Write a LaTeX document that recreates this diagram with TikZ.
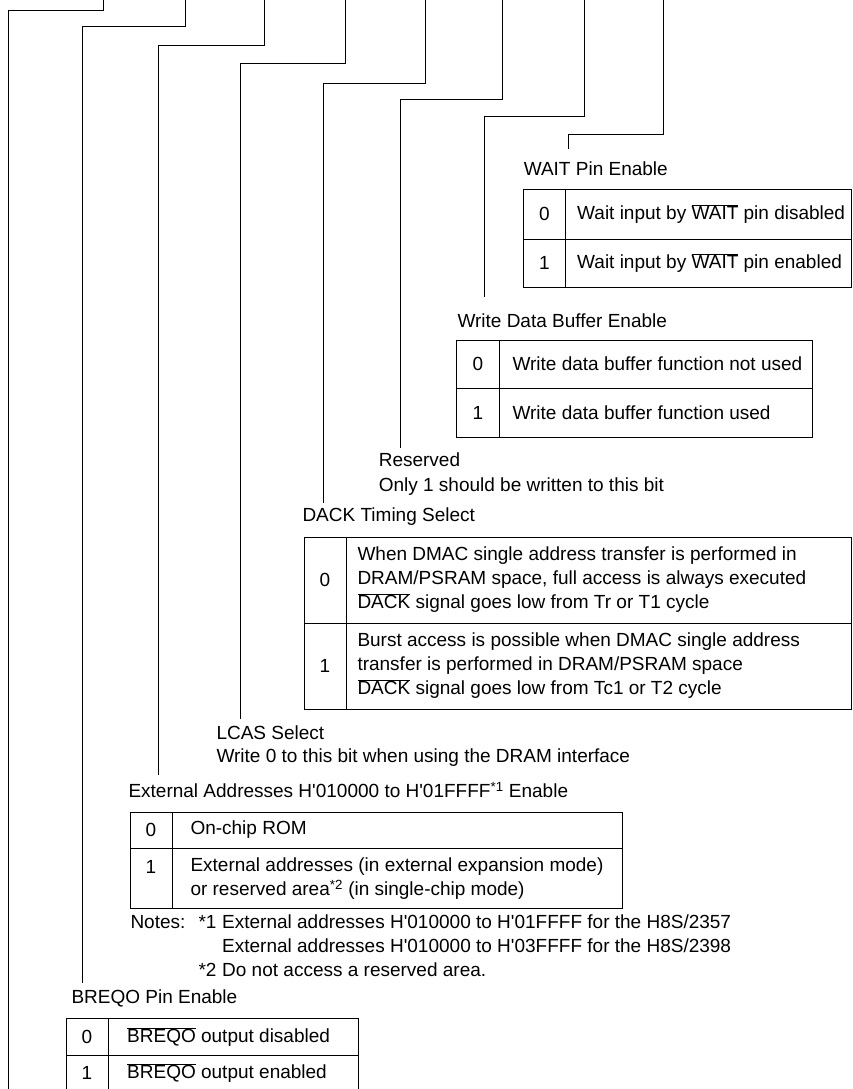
\documentclass[tikz,border=0pt]{standalone}
\usepackage{fontspec}
\setmainfont{Liberation Sans}
\usetikzlibrary{positioning}

\newcommand{\ovl}[1]{$\overline{\mbox{#1}}$}
\newcommand{\hq}{\textquotesingle}

\begin{document}
\begin{tikzpicture}[x=1pt, y=-1pt, line width=1pt,
  every node/.style={font=\fontsize{19}{24}\selectfont, inner sep=0pt},
  lbl/.style={anchor=west},
  cell/.style={anchor=west, align=left},
  bitval/.style={anchor=center},
  tbl/.style={draw, line width=1pt}]
  \useasboundingbox (0,0) rectangle (853,1089);

  % leads from the register bits
  \foreach \tx/\ky/\bx/\ey [count=\i] in {103.3/10.3/8.7/1095, 185.3/26.3/82.7/983,
      264/45.7/158/775, 345.3/63.3/240.7/719, 425.3/84/323.7/503,
      502.3/100/400.3/448, 584.3/116.7/484.7/297, 663.3/134.3/568.7/149.3}
  {
    \coordinate (top\i) at (\tx,-2);
    \coordinate (end\i) at (\bx,\ey);
    \draw (top\i) -- (\tx,\ky) -| (end\i);
  }

  % WAIT pin enable
  \node[lbl] (waitlbl) at (523.3,168.3) {WAIT Pin Enable};
  \draw[tbl] (523.3,189.3) rectangle (851.5,287.3);
  \draw (565.7,189.3) -- (565.7,287.3) (523.3,239.3) -- (851.5,239.3);
  \node[bitval] (wait0) at (544.5,214.3) {0};
  \node[cell] (waitd) at (576.7,214.3) {Wait input by \ovl{WAIT} pin disabled};
  \node[bitval] (wait1) at (544.5,263.3) {1};
  \node[cell] (waite) at (576.7,263.3) {Wait input by \ovl{WAIT} pin enabled};

  % write data buffer enable
  \node[lbl] (wdblbl) at (457,321) {Write Data Buffer Enable};
  \draw[tbl] (456.7,340) rectangle (812,437.7);
  \draw (499,340) -- (499,437.7) (456.7,388.3) -- (812,388.3);
  \node[bitval] (wdb0) at (478,364) {0};
  \node[cell] (wdbn) at (512,364) {Write data buffer function not used};
  \node[bitval] (wdb1) at (478,413) {1};
  \node[cell] (wdbu) at (512,413) {Write data buffer function used};

  % reserved
  \node[lbl] (rsv) at (378.3,460) {Reserved};
  \node[lbl] (rsvnote) at (378.3,487) {Only 1 should be written to this bit};

  % DACK timing select
  \node[lbl] (dacklbl) at (302,517) {DACK Timing Select};
  \draw[tbl] (304,537) rectangle (851,709);
  \draw (346,537) -- (346,709) (304,623) -- (851,623);
  \node[bitval] (dack0) at (325,580) {0};
  \node[cell] (dackf) at (357,580) {When DMAC single address transfer is performed in\\
    DRAM/PSRAM space, full access is always executed\\
    \ovl{DACK} signal goes low from Tr or T1 cycle};
  \node[bitval] (dack1) at (325,666) {1};
  \node[cell] (dackb) at (357,666) {Burst access is possible when DMAC single address\\
    transfer is performed in DRAM/PSRAM space\\
    \ovl{DACK} signal goes low from Tc1 or T2 cycle};

  % LCAS select
  \node[lbl] (lcas) at (216,733) {LCAS Select};
  \node[lbl] (lcasnote) at (216,758) {Write 0 to this bit when using the DRAM interface};

  % external addresses enable
  \node[lbl] (extlbl) at (128,790) {External Addresses H\hq010000 to H\hq01FFFF\textsuperscript{*1} Enable};
  \draw[tbl] (130,812) rectangle (622,908);
  \draw (172,812) -- (172,908) (130,848) -- (622,848);
  \node[bitval] (ext0) at (151,830) {0};
  \node[cell] (extrom) at (190,830) {On-chip ROM};
  \node[bitval] (ext1) at (151,867) {1};
  \node[cell] (extadr) at (190,879) {External addresses (in external expansion mode)\\
    or reserved area\textsuperscript{*2} (in single-chip mode)};
  \node[lbl] (notes) at (130,922) {Notes:};
  \node[lbl] (n1) at (198,922) {*1};
  \node[cell] (n1txt) at (221.7,934) {External addresses H\hq010000 to H\hq01FFFF for the H8S/2357\\
    External addresses H\hq010000 to H\hq03FFFF for the H8S/2398};
  \node[lbl] (n2) at (198,970) {*2};
  \node[lbl] (n2txt) at (221.7,970) {Do not access a reserved area.};

  % BREQO pin enable
  \node[lbl] (breqolbl) at (71,998) {BREQO Pin Enable};
  \draw[tbl] (66,1018) rectangle (358.5,1095);
  \draw (108,1018) -- (108,1095) (66,1055) -- (358.5,1055);
  \node[bitval] (breqo0) at (87,1036.7) {0};
  \node[cell] (breqod) at (126.7,1036.7) {\ovl{BREQO} output disabled};
  \node[bitval] (breqo1) at (87,1073) {1};
  \node[cell] (breqoe) at (126.7,1073) {\ovl{BREQO} output enabled};
\end{tikzpicture}
\end{document}
